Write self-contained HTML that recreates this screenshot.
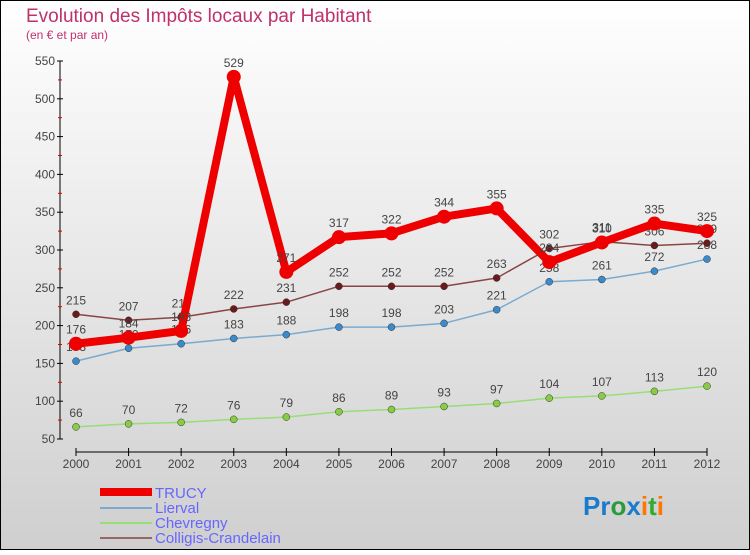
<!DOCTYPE html>
<html><head><meta charset="utf-8"><style>
body{margin:0;width:750px;height:550px;overflow:hidden;font-family:"Liberation Sans",sans-serif}
</style></head><body>
<svg width="750" height="550" xmlns="http://www.w3.org/2000/svg" id="svg">
<defs><linearGradient id="bg" x1="0" y1="0" x2="0" y2="1"><stop offset="0" stop-color="#ffffff"/><stop offset="1" stop-color="#cfcfcf"/></linearGradient></defs>
<rect x="0.5" y="0.5" width="749" height="549" fill="url(#bg)" stroke="#000"/>
<text x="26" y="22" font-size="19" fill="#c0306a">Evolution des Impôts locaux par Habitant</text>
<text x="26" y="39" font-size="12" fill="#c0306a">(en € et par an)</text>
<g id="axes"></g><g id="plot"></g>
<g>
<rect x="100" y="488" width="52" height="8" fill="#e00"/>
<text x="155" y="498" font-size="15" fill="#6666ff">TRUCY</text>
<rect x="100" y="507" width="52" height="2" fill="#7aaad0"/>
<text x="155" y="513" font-size="15" fill="#6666ff">Lierval</text>
<rect x="100" y="522" width="52" height="2" fill="#99dd77"/>
<text x="155" y="528" font-size="15" fill="#6666ff">Chevregny</text>
<rect x="100" y="537" width="52" height="2" fill="#996666"/>
<text x="155" y="543" font-size="15" fill="#6666ff">Colligis-Crandelain</text>
</g>
<text x="583" y="515" font-size="26" font-weight="bold"><tspan fill="#1a7acc">Pr</tspan><tspan fill="#2a9a3a">o</tspan><tspan fill="#1a7acc">x</tspan><tspan fill="#ff7700">i</tspan><tspan fill="#33aa33">t</tspan><tspan fill="#ff7700">i</tspan></text>
</svg>
<script>
const years=[2000,2001,2002,2003,2004,2005,2006,2007,2008,2009,2010,2011,2012];
const yTicks=[50,100,150,200,250,300,350,400,450,500,550];
const trucy=[176,184,193,529,271,317,322,344,355,284,310,335,325];
const lierval=[153,170,176,183,188,198,198,203,221,258,261,272,288];
const chevregny=[66,70,72,76,79,86,89,93,97,104,107,113,120];
const colligis=[215,207,211,222,231,252,252,252,263,302,311,306,309];
const NS="http://www.w3.org/2000/svg";
function X(i){return 76+i*(707-76)/12;}
function Y(v){return 439-(v-50)*(439-61)/500;}
function mk(t,a,p){const e=document.createElementNS(NS,t);for(const k in a)e.setAttribute(k,a[k]);p.appendChild(e);return e;}
const ax=document.getElementById('axes'),pl=document.getElementById('plot');
let e=mk('line',{x1:60,y1:61,x2:60,y2:439,stroke:'#000'},ax);


e=mk('line',{x1:76,y1:452,x2:707,y2:452,stroke:'#000'},ax);


yTicks.forEach((v,i)=>{mk('line',{x1:57,y1:Y(v),x2:63,y2:Y(v),stroke:'#000'},ax);
if(i<yTicks.length-1)mk('line',{x1:58,y1:Y(v+25),x2:62,y2:Y(v+25),stroke:'#d00'},ax);
const t=mk('text',{x:55,y:Y(v)+4,'text-anchor':'end','font-size':12,fill:'#444'},ax);t.textContent=v;

});
years.forEach((y,i)=>{mk('line',{x1:X(i),y1:448,x2:X(i),y2:456,stroke:'#000'},ax);
const t=mk('text',{x:X(i),y:468,'text-anchor':'middle','font-size':12,fill:'#444'},ax);t.textContent=y;

});
function series(d,color,dot,w,r,name){
const g=mk('g',{},pl);


mk('polyline',{points:d.map((v,i)=>X(i)+','+Y(v)).join(' '),fill:'none',stroke:color,'stroke-width':w,'stroke-linejoin':'round'},g);
d.forEach((v,i)=>{const c=mk('circle',{cx:X(i),cy:Y(v),r:r,fill:dot,stroke:w>3?'none':'#333','stroke-width':0.5},g);


const t=mk('text',{x:X(i),y:Y(v)-10,'text-anchor':'middle','font-size':12,fill:'#444'},g);t.textContent=v;

});}
series(chevregny,'#99dd77','#88cc44',1.5,3.5,'chevregny');
series(lierval,'#7aaad0','#3a8acc',1.5,3.5,'lierval');
series(colligis,'#8a4444','#6a1a1a',1.5,3.5,'colligis');
series(trucy,'#ee0000','#ee0000',8,7,'trucy');
</script>
</body></html>
